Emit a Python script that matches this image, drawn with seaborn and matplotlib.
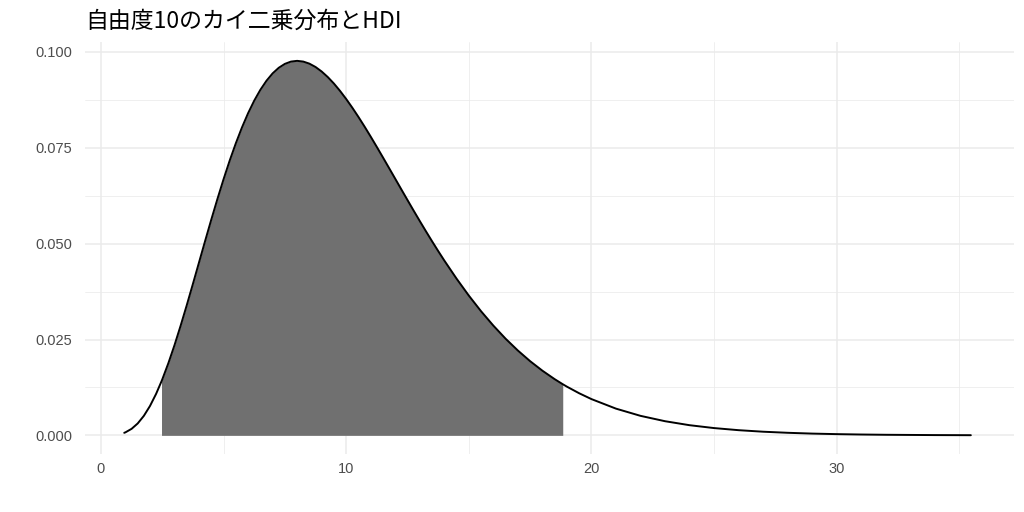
import matplotlib
matplotlib.use("Agg")
import matplotlib.pyplot as plt
import seaborn as sns
import numpy as np
import pandas as pd
from matplotlib.ticker import MultipleLocator

# density values (chi-square, df = 10)
x_vals = [0.95, 1.0, 1.25, 1.5, 1.75, 2.0, 2.25, 2.47, 2.5, 2.75, 3.0, 3.25, 3.5, 3.75,
          4.0, 4.25, 4.5, 4.75, 5.0, 5.25, 5.5, 5.75, 6.0, 6.25, 6.5, 6.75, 7.0, 7.25,
          7.5, 7.75, 8.0, 8.25, 8.5, 8.75, 9.0, 9.25, 9.5, 9.75, 10.0, 10.25, 10.5,
          10.75, 11.0, 11.25, 11.5, 11.75, 12.0, 12.25, 12.5, 12.75, 13.0, 13.25,
          13.5, 13.75, 14.0, 14.5, 15.0, 15.5, 16.0, 16.5, 17.0, 17.5, 18.0, 18.5,
          18.83, 19.0, 19.5, 20.0, 21.0, 22.0, 23.0, 24.0, 25.0, 26.0, 27.0, 28.0,
          29.0, 30.0, 31.0, 32.0, 33.0, 34.0, 35.0, 35.47]
density = [0.00066, 0.00079, 0.00170, 0.00311, 0.00509, 0.00766, 0.01083, 0.01410,
           0.01457, 0.01883, 0.02353, 0.02861, 0.03395, 0.03949, 0.04511, 0.05074,
           0.05628, 0.06165, 0.06680, 0.07166, 0.07617, 0.08030, 0.08402, 0.08730,
           0.09012, 0.09249, 0.09441, 0.09587, 0.09689, 0.09749, 0.09768, 0.09749,
           0.09695, 0.09608, 0.09490, 0.09345, 0.09176, 0.08984, 0.08773, 0.08546,
           0.08305, 0.08053, 0.07791, 0.07522, 0.07248, 0.06971, 0.06693, 0.06414,
           0.06137, 0.05862, 0.05591, 0.05325, 0.05064, 0.04809, 0.04561, 0.04088,
           0.03646, 0.03237, 0.02863, 0.02521, 0.02213, 0.01935, 0.01687, 0.01466,
           0.01334, 0.01270, 0.01098, 0.00946, 0.00697, 0.00509, 0.00369, 0.00265,
           0.00190, 0.00135, 0.00095, 0.00067, 0.00046, 0.00032, 0.00022, 0.00015,
           0.00011, 0.00007, 0.00005, 0.00004]
hdi_low, hdi_high = 2.47, 18.83
x_ticks = [0, 10, 20, 30]
y_ticks = [0.000, 0.025, 0.050, 0.075, 0.100]
y_tick_labels = ["0.000", "0.025", "0.050", "0.075", "0.100"]
title = "自由度10のカイ二乗分布とHDI"

df = pd.DataFrame({"x": x_vals, "density": density})
hdi = df[(df.x >= hdi_low) & (df.x <= hdi_high)]

sns.set_theme(style="white")
plt.rcParams['font.family'] = ['Liberation Sans', 'Noto Sans CJK JP', 'DejaVu Sans']

fig = plt.figure(figsize=(10.24, 5.12), dpi=100)
ax = fig.add_axes([0.083, 0.113, 0.907, 0.805])

ax.fill_between(hdi.x, 0, hdi.density, color="#707070", linewidth=0, zorder=2)
sns.lineplot(data=df, x="x", y="density", ax=ax, color="black", linewidth=1.4, zorder=3)

ax.set_xlim(-0.65, 37.22)
ax.set_ylim(-0.0049, 0.1026)
ax.set_xticks(x_ticks)
ax.set_yticks(y_ticks)
ax.set_yticklabels(y_tick_labels)
ax.xaxis.set_minor_locator(MultipleLocator(5))
ax.yaxis.set_minor_locator(MultipleLocator(0.0125))
ax.grid(which="major", color="#ebebeb", linewidth=1.1, zorder=0)
ax.grid(which="minor", color="#ebebeb", linewidth=0.55, zorder=0)
ax.set_axisbelow(True)
for s in ax.spines.values():
    s.set_visible(False)
ax.tick_params(axis="y", which="both", length=0, labelsize=10.5, labelcolor="#4d4d4d", pad=9)
ax.tick_params(axis="x", which="both", length=0, labelsize=10.5, labelcolor="#4d4d4d", pad=6)
ax.set_xlabel("")
ax.set_ylabel("")
fig.text(0.083, 0.945, title, fontsize=16.5, color="black", ha="left", va="baseline",
         family=['Noto Sans CJK JP', 'DejaVu Sans'])

fig.savefig("out.png", dpi=100, facecolor="white")
